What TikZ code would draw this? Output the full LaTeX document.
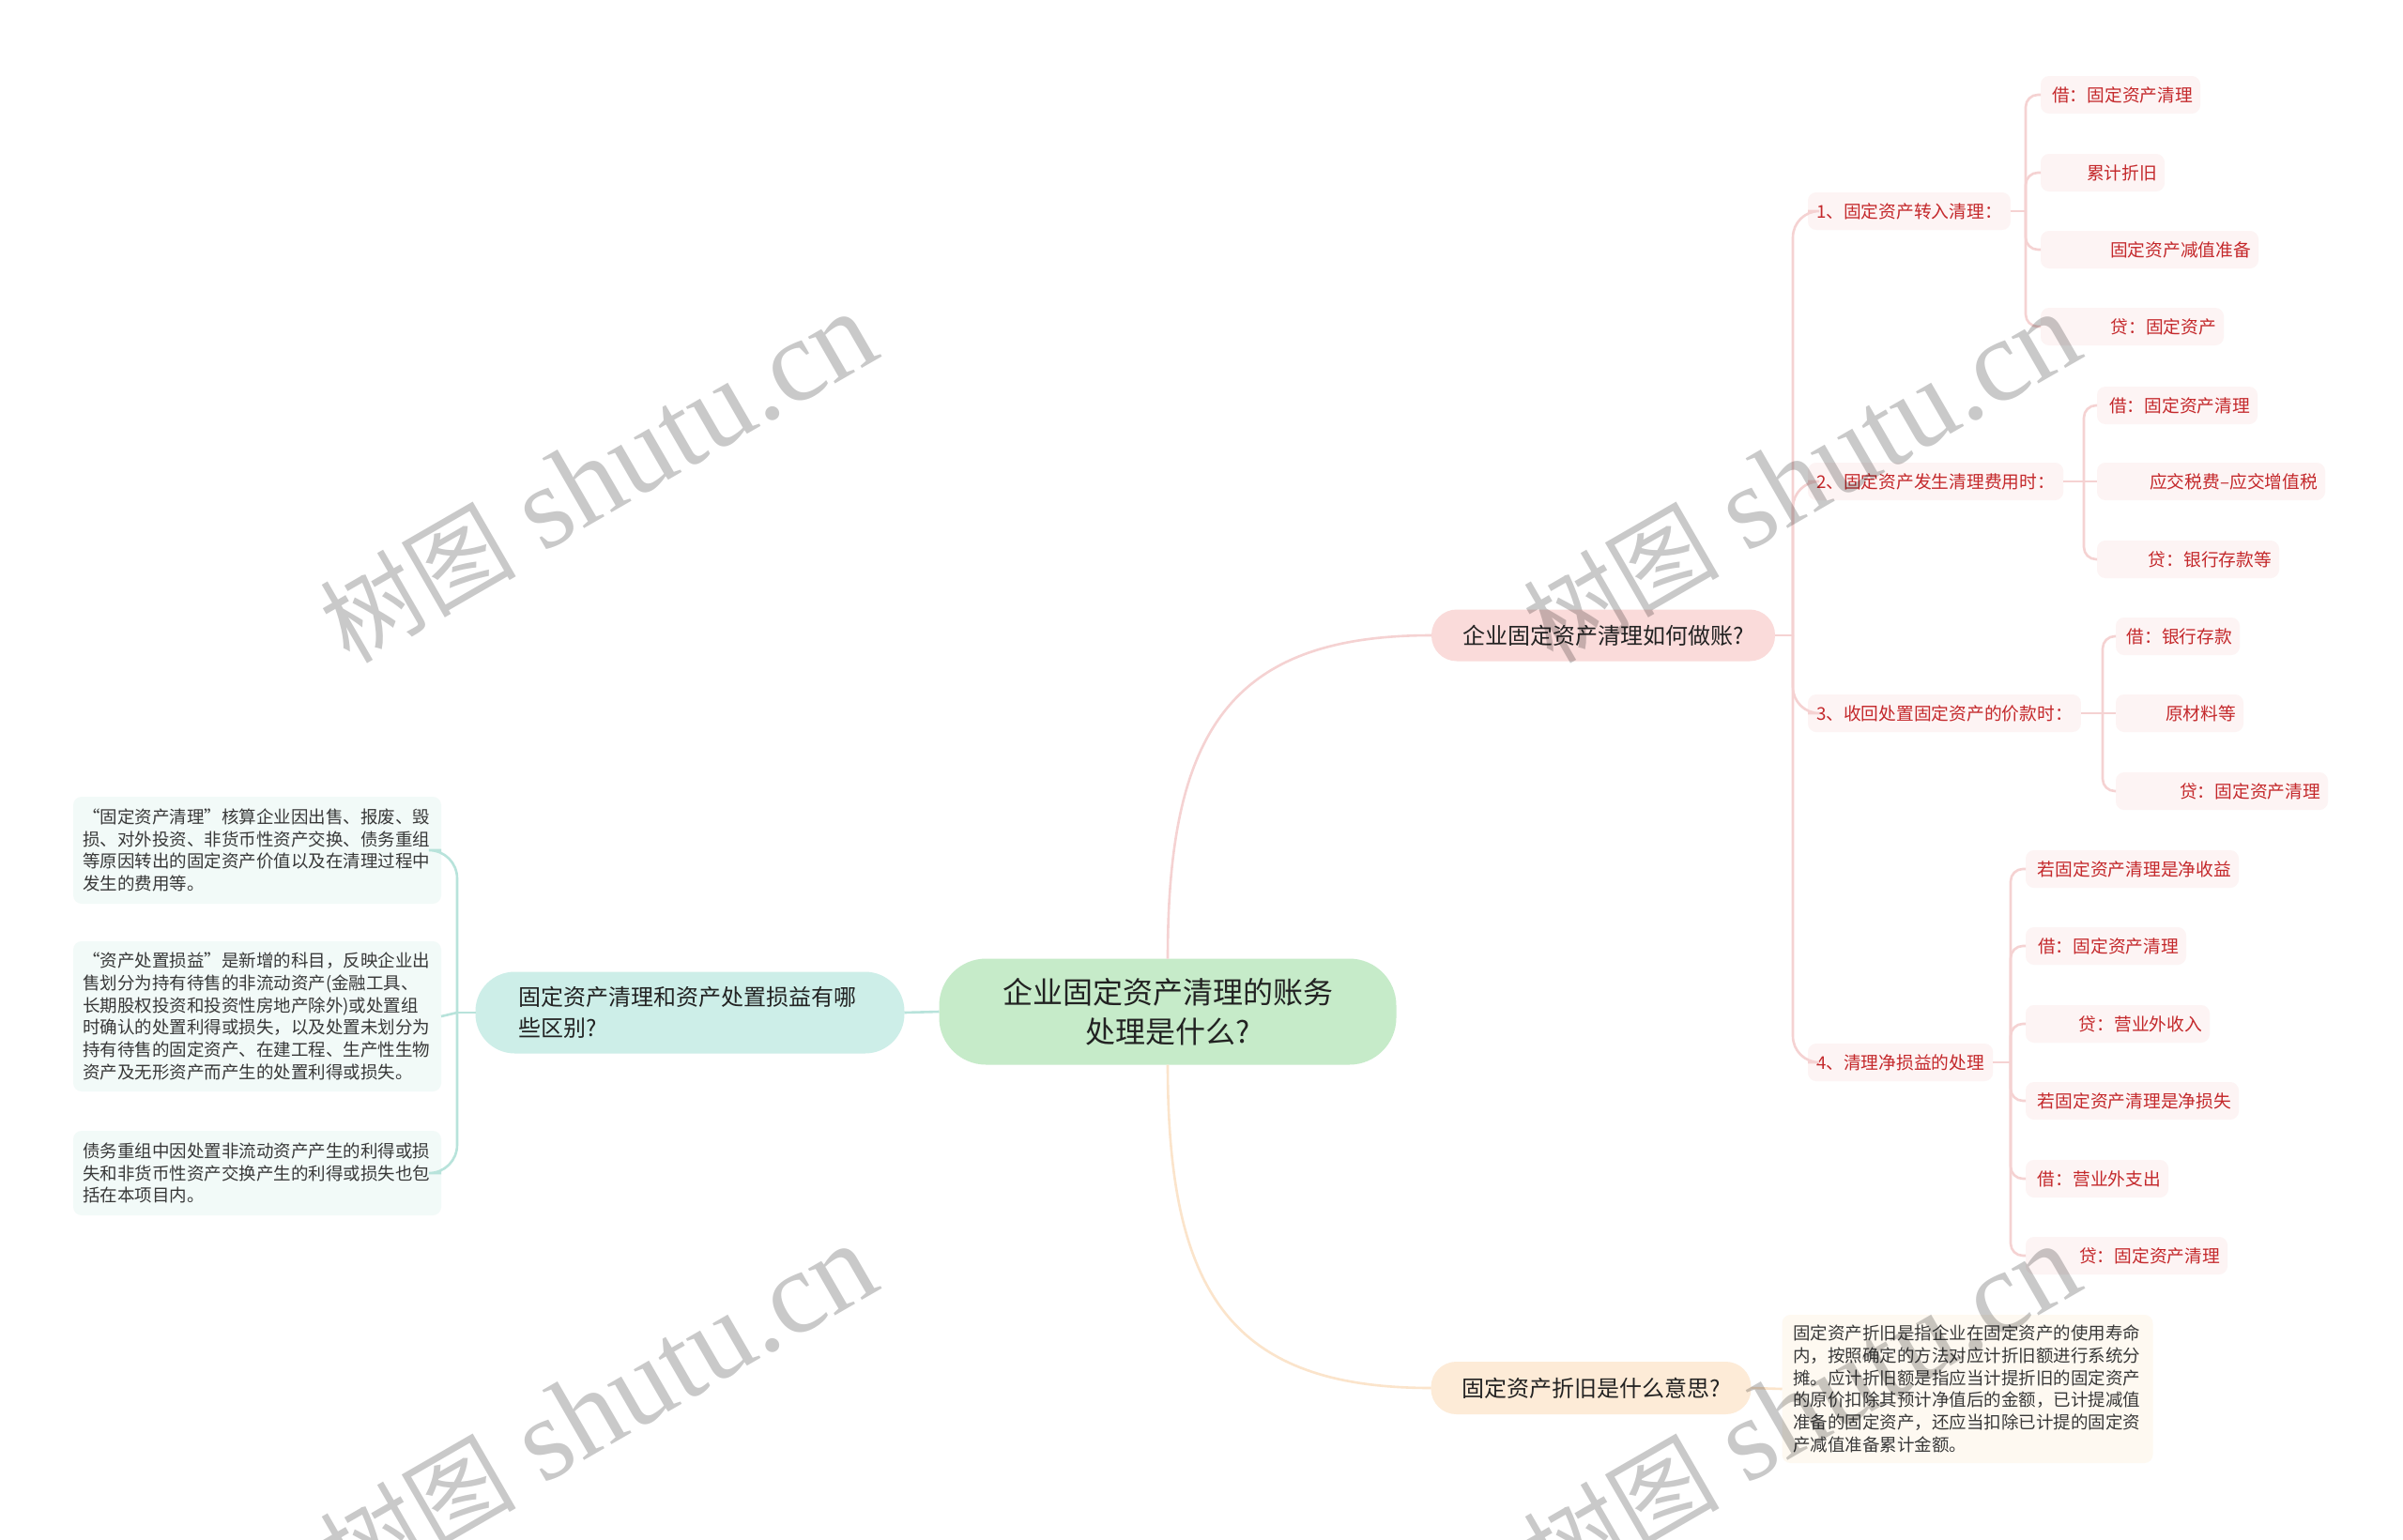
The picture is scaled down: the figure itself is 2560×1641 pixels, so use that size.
\documentclass[tikz,border=0pt]{standalone}
\usepackage{fontspec}
\setmainfont{Noto Sans CJK SC}
\newfontfamily\cjk{Noto Sans CJK SC}
\newfontfamily\wmlatin{Liberation Serif}
\usetikzlibrary{calc}

\definecolor{rootfill}{HTML}{C6EBC9}
\definecolor{tealfill}{HTML}{CDEEE8}
\definecolor{tealleaf}{HTML}{F2FAF8}
\definecolor{tealline}{HTML}{B8E3DB}
\definecolor{pinkfill}{HTML}{FADBDA}
\definecolor{pinkleaf}{HTML}{FDF4F4}
\definecolor{pinkline}{HTML}{F5D2D2}
\definecolor{redtext}{HTML}{C4282B}
\definecolor{peachfill}{HTML}{FDEBD7}
\definecolor{peachleaf}{HTML}{FEF9F1}
\definecolor{peachline}{HTML}{FBE4CB}
\definecolor{darktext}{HTML}{222222}
\definecolor{greytext}{HTML}{383838}

\tikzset{
  every node/.style={inner sep=0pt, outer sep=0pt},
  rootnode/.style={fill=rootfill, rounded corners=50pt, minimum width=487pt, minimum height=113pt,
    align=center, text=darktext, font=\fontsize{32}{42}\selectfont},
  lqnode/.style={fill=tealfill, rounded corners=42pt, minimum width=457pt, minimum height=87pt,
    text width=365pt, align=left, text=darktext, font=\fontsize{24}{33}\selectfont},
  pnode/.style={fill=pinkfill, rounded corners=27pt, minimum width=366pt, minimum height=55pt,
    text=darktext, font=\fontsize{24}{30}\selectfont},
  bnode/.style={fill=peachfill, rounded corners=27pt, minimum width=341pt, minimum height=56pt,
    text=darktext, font=\fontsize{24}{30}\selectfont},
  subnode/.style={fill=pinkleaf, rounded corners=9pt, minimum height=40pt, inner xsep=9pt,
    text=redtext, font=\fontsize{18.75}{22}\selectfont, anchor=west},
  leafnode/.style={fill=pinkleaf, rounded corners=9pt, minimum height=40pt, inner xsep=8pt,
    text=redtext, font=\fontsize{18.75}{22}\selectfont, align=right},
  tleaf/.style={fill=tealleaf, rounded corners=9pt, inner xsep=10pt, inner ysep=8pt,
    text width=372pt, align=left, text=greytext, font=\fontsize{18.5}{23.7}\selectfont},
  dleaf/.style={fill=peachleaf, rounded corners=9pt, inner xsep=11.5pt, inner ysep=8pt,
    text width=372pt, align=left, text=greytext, font=\fontsize{18.5}{23.7}\selectfont},
  pinkc/.style={draw=pinkline, line width=2.6pt},
  tealc/.style={draw=tealline, line width=2.6pt},
  peachc/.style={draw=peachline, line width=2.6pt},
  wm/.style={anchor=base west, rotate=30, text=black, text opacity=0.21}
}

\newcommand\mkleaf[5]{%
  \pgfmathsetmacro\mkw{#3-#2-16}%
  \pgfmathsetmacro\mkc{(#2+#3)/2}%
  \node[leafnode, text width=\mkw pt] (#1) at (\mkc,#4) {#5};}

\begin{document}
\begin{tikzpicture}[x=1pt,y=-1pt]
\useasboundingbox (0,0) rectangle (2560,1641);
\fill[white] (0,0) rectangle (2560,1641);

% main nodes
\node[rootnode] (root) at (1244,1078) {企业固定资产清理的账务\\处理是什么?};
\node[lqnode] (lq) at (735,1079) {固定资产清理和资产处置损益有哪\\些区别?};
\node[pnode] (b1) at (1708,677) {企业固定资产清理如何做账?};
\node[bnode] (b2) at (1695,1479) {固定资产折旧是什么意思?};

% left leaves
\node[tleaf, minimum height=114pt] (ll1) at (274,906) {“固定资产清理”核算企业因出售、报废、毁\\损、对外投资、非货币性资产交换、债务重组\\等原因转出的固定资产价值以及在清理过程中\\发生的费用等。};
\node[tleaf, minimum height=160pt] (ll2) at (274,1083) {“资产处置损益”是新增的科目，反映企业出\\售划分为持有待售的非流动资产(金融工具、\\长期股权投资和投资性房地产除外)或处置组\\时确认的处置利得或损失，以及处置未划分为\\持有待售的固定资产、在建工程、生产性生物\\资产及无形资产而产生的处置利得或损失。};
\node[tleaf, minimum height=90pt] (ll3) at (274,1250) {债务重组中因处置非流动资产产生的利得或损\\失和非货币性资产交换产生的利得或损失也包\\括在本项目内。};

% description leaf
\node[dleaf, minimum height=158pt] (desc) at (2096,1480) {固定资产折旧是指企业在固定资产的使用寿命\\内，按照确定的方法对应计折旧额进行系统分\\摊。应计折旧额是指应当计提折旧的固定资产\\的原价扣除其预计净值后的金额，已计提减值\\准备的固定资产，还应当扣除已计提的固定资\\产减值准备累计金额。};

% sub items
\node[subnode] (s1) at (1926,225) {1、固定资产转入清理：};
\node[subnode] (s2) at (1926,513) {2、固定资产发生清理费用时：};
\node[subnode] (s3) at (1926,760) {3、收回处置固定资产的价款时：};
\node[subnode] (s4) at (1926,1132) {4、清理净损益的处理};

% leaves
\mkleaf{l1a}{2174}{2344}{101}{借：固定资产清理}
\mkleaf{l1b}{2174}{2306}{184}{累计折旧}
\mkleaf{l1c}{2174}{2406}{266}{固定资产减值准备}
\mkleaf{l1d}{2174}{2369}{348}{贷：固定资产}

\mkleaf{l2a}{2234}{2405}{432}{借：固定资产清理}
\mkleaf{l2b}{2234}{2477}{513}{应交税费–应交增值税}
\mkleaf{l2c}{2234}{2428}{596}{贷：银行存款等}

\mkleaf{l3a}{2254}{2386}{678}{借：银行存款}
\mkleaf{l3b}{2254}{2390}{760}{原材料等}
\mkleaf{l3c}{2254}{2480}{843}{贷：固定资产清理}

\mkleaf{l4a}{2158}{2385}{926}{若固定资产清理是净收益}
\mkleaf{l4b}{2158}{2329}{1008}{借：固定资产清理}
\mkleaf{l4c}{2158}{2354}{1091}{贷：营业外收入}
\mkleaf{l4d}{2158}{2385}{1173}{若固定资产清理是净损失}
\mkleaf{l4e}{2158}{2310}{1256}{借：营业外支出}
\mkleaf{l4f}{2158}{2373}{1338}{贷：固定资产清理}

% connectors: root
\draw[tealc] (root.west) -- (lq.east);
\draw[pinkc] (root.north) .. controls (1244,780) and (1310,677) .. (b1.west);
\draw[peachc] (root.south) .. controls (1244,1376) and (1310,1479) .. (b2.west);
\draw[peachc] (b2.east) -- (desc.west);

% left bracket
\coordinate (spl) at (487,1079);
\draw[tealc] (lq.west) -- (spl);
\draw[tealc, rounded corners=30pt] (spl) -- (spl |- ll1.east) -- (ll1.east);
\draw[tealc, rounded corners=30pt] (spl) -- (spl |- ll3.east) -- (ll3.east);
\draw[tealc] (spl) -- (ll2.east);

% b1 bracket
\coordinate (spb) at (1910,677);
\draw[pinkc] (b1.east) -- (spb);
\foreach \c in {s1,s2,s3,s4}
  \draw[pinkc, rounded corners=28pt] (spb) -- (spb |- \c.west) -- (\c.west);

% s1 bracket
\coordinate (sp1) at (2158,225);
\draw[pinkc] (s1.east) -- (sp1);
\foreach \c in {l1a,l1b,l1c,l1d}
  \draw[pinkc, rounded corners=13pt] (sp1) -- (sp1 |- \c.west) -- (\c.west);

% s2 bracket
\coordinate (sp2) at (2220,513);
\draw[pinkc] (s2.east) -- (l2b.west);
\foreach \c in {l2a,l2c}
  \draw[pinkc, rounded corners=13pt] (sp2) -- (sp2 |- \c.west) -- (\c.west);

% s3 bracket
\coordinate (sp3) at (2240,760);
\draw[pinkc] (s3.east) -- (l3b.west);
\foreach \c in {l3a,l3c}
  \draw[pinkc, rounded corners=13pt] (sp3) -- (sp3 |- \c.west) -- (\c.west);

% s4 bracket
\coordinate (sp4) at (2142,1132);
\draw[pinkc] (s4.east) -- (sp4);
\foreach \c in {l4a,l4b,l4c,l4d,l4e,l4f}
  \draw[pinkc, rounded corners=13pt] (sp4) -- (sp4 |- \c.west) -- (\c.west);

% watermarks
\begin{scope}
\clip (0,0) rectangle (2560,1641);
\foreach \wx/\wy in {372/708, 1654/708, 372/1701, 1654/1701}
  \node[wm] at (\wx,\wy) {{\cjk\fontsize{105}{105}\selectfont 树图}\hspace{28pt}{\wmlatin\fontsize{125}{125}\selectfont shutu.cn}};
\end{scope}
\end{tikzpicture}
\end{document}
